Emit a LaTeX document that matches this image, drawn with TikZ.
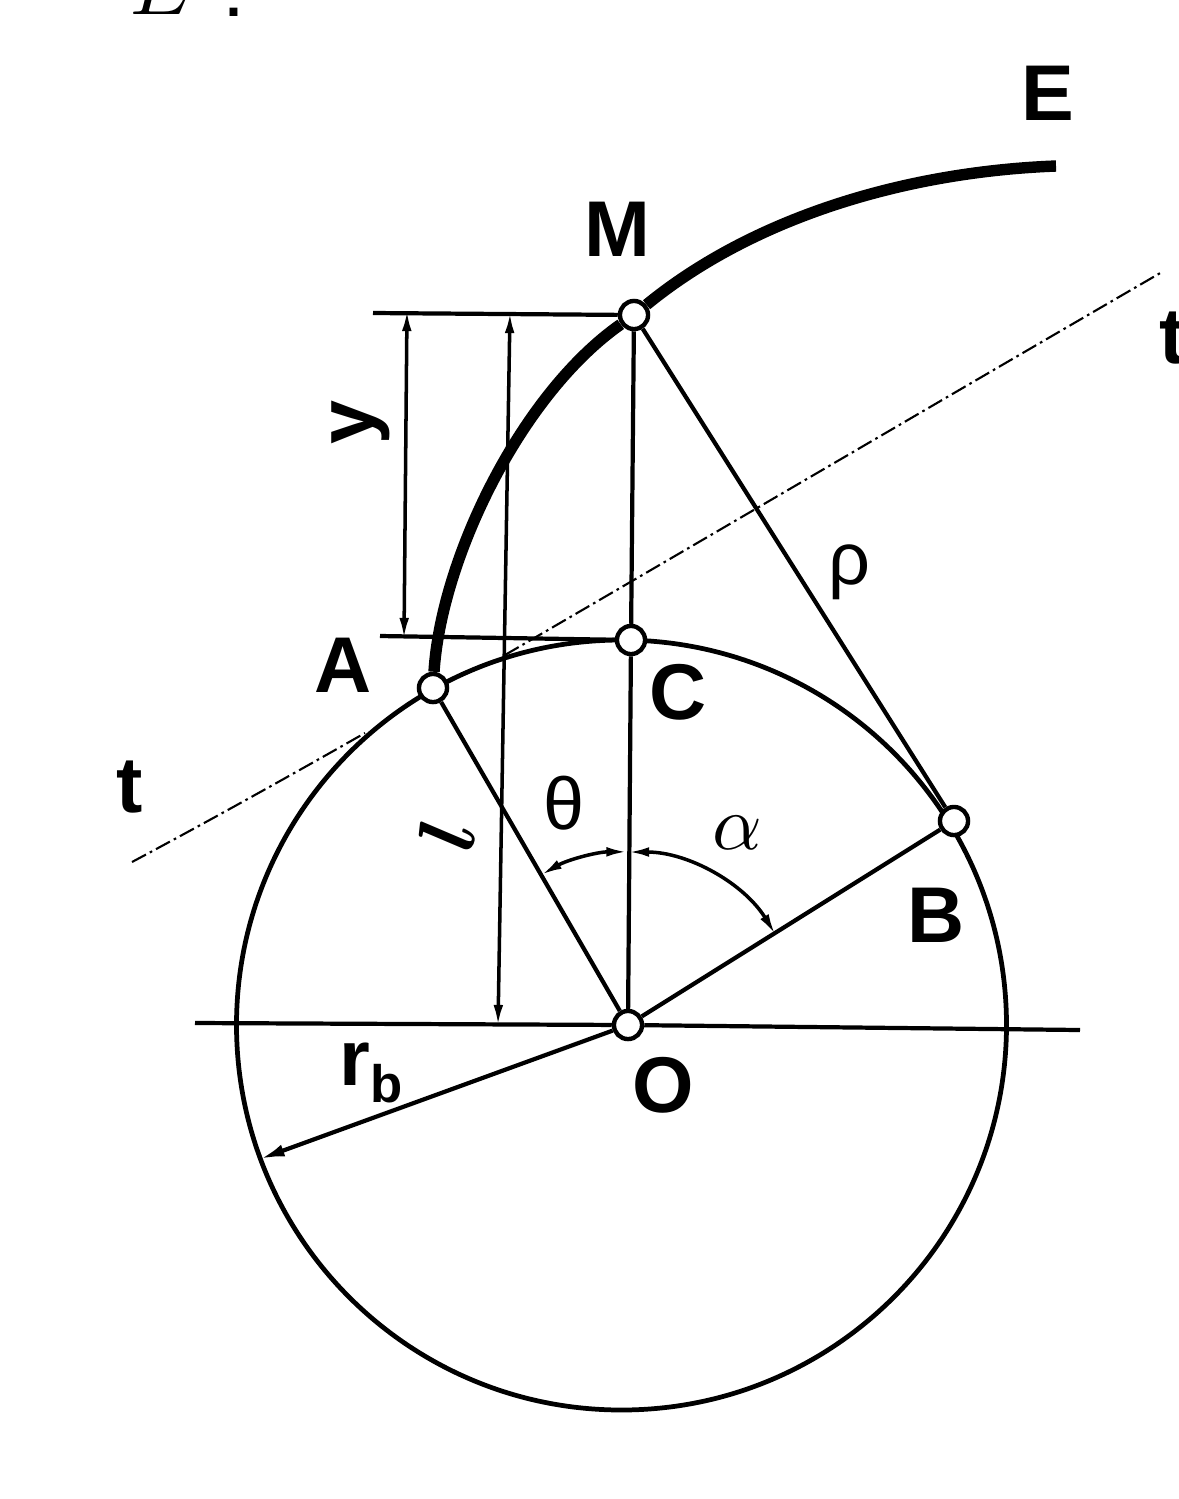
\documentclass[tikz,border=0pt]{standalone}
\usepackage{fontspec}
\usepackage{amsmath}
\setmainfont{Liberation Sans}
\usetikzlibrary{arrows.meta}
\tikzset{
	pt/.style={circle,draw,fill=white,line width=2.5pt,minimum size=16pt},
	thin line/.style={line width=2.4pt},
	dim line/.style={line width=2pt,{Latex[length=12pt,width=5.5pt]}-{Latex[length=12pt,width=5.5pt]}},
	dash line/.style={line width=1.2pt,dash pattern=on 9pt off 2.5pt on 1.5pt off 2.5pt},
	lbl/.style={font=\fontsize{45}{50}\selectfont\bfseries},
	greek/.style={font=\fontsize{42}{50}\selectfont},
}
\begin{document}
\begin{tikzpicture}[x=0.02cm,y=0.02cm]
	\tikzstyle{every node}+=[inner sep=0pt]
	\path [clip,use as bounding box] (0,0) rectangle (1179,-1499);
	\draw [line width=2.7pt] (621.5,-1025) circle (385);
	% points
	\node [pt] (A) at (433,-688) {};
	\node [pt] (C) at (631,-640) {};
	\node [pt] (B) at (954,-821) {};
	\node [pt] (M) at (634,-315) {};
	\node [pt] (O) at (628,-1025) {};
	% free ends
	\coordinate (E) at (1056,-166);
	\coordinate (axisL) at (195,-1023);
	\coordinate (axisR) at (1080,-1030);
	\coordinate (rimR) at (260,-1159);
	\coordinate (topL) at (373,-313);
	\coordinate (midL) at (380,-636);
	\coordinate (yTop) at (407,-310);
	\coordinate (yBot) at (404,-639);
	\coordinate (lTop) at (510,-312);
	\coordinate (lBot) at (498,-1026);
	\coordinate (tL) at (132,-862);
	\coordinate (tA) at (365,-733);
	\coordinate (tC) at (505,-655);
	\coordinate (tR) at (1162,-272);
	\coordinate (arcA) at (541,-875);
	\coordinate (arcV) at (628,-852);
	% involute
	\draw [line width=6.5pt] (A) .. controls (441,-560) and (520,-395) .. (M);
	\draw [line width=6.5pt] (M) .. controls (750,-220) and (900,-172) .. (E);
	% lines
	\draw [thin line] (axisL) -- (O);
	\draw [thin line] (O) -- (axisR);
	\draw [thin line] (topL) -- (M);
	\draw [thin line] (midL) -- (C);
	\draw [thin line] (M) -- (C);
	\draw [thin line] (C) -- (O);
	\draw [thin line] (M) -- (B);
	\draw [thin line] (A) -- (O);
	\draw [thin line] (O) -- (B);
	\draw [thin line,-{Latex[length=14pt,width=7pt]}] (O) -- (rimR);
	\draw [dim line] (yTop) -- (yBot);
	\draw [dim line] (lTop) -- (lBot);
	\draw [dim line] (arcA) arc (120:90:173);
	\draw [dim line] (arcV) arc (90:31.5:173);
	\draw [dash line] (tL) .. controls (220,-815) and (300,-770) .. (tA);
	\draw [dash line] (tC) .. controls (720,-530) and (950,-395) .. (tR);
	% labels
	\node [lbl] (lE) at (1048,-93) {E};
	\node [lbl] (lM) at (617,-229) {M};
	\node [lbl] (lt1) at (1173,-338) {t};
	\node [lbl] (lt2) at (130,-787) {t};
	\node [lbl] (lA) at (343,-665) {A};
	\node [lbl] (lC) at (678,-692) {C};
	\node [lbl] (lB) at (936,-915) {B};
	\node [lbl] (lO) at (663,-1085) {O};
	\node [lbl,rotate=90] (ly) at (361,-423) {y};
	\node [rotate=81] (ll) at (447,-835) {\scalebox{4.6}{$\boldsymbol{l}$}};
	\node [lbl] (lr) at (371,-1073) {r\raisebox{-10pt}{\fontsize{30}{34}\selectfont b}};
	\node [greek] (lrho) at (849,-572) {ρ};
	\node [greek] (ltheta) at (564,-803) {θ};
	\node (lalpha) at (737,-833) {\scalebox{4.4}{$\alpha$}};
	\node [anchor=base west] (tE) at (130,-14) {\scalebox{4.6}{$E$}};
	\node [anchor=base,font=\fontsize{47}{50}\selectfont] (tcolon) at (234,-16) {:};
\end{tikzpicture}
\end{document}
